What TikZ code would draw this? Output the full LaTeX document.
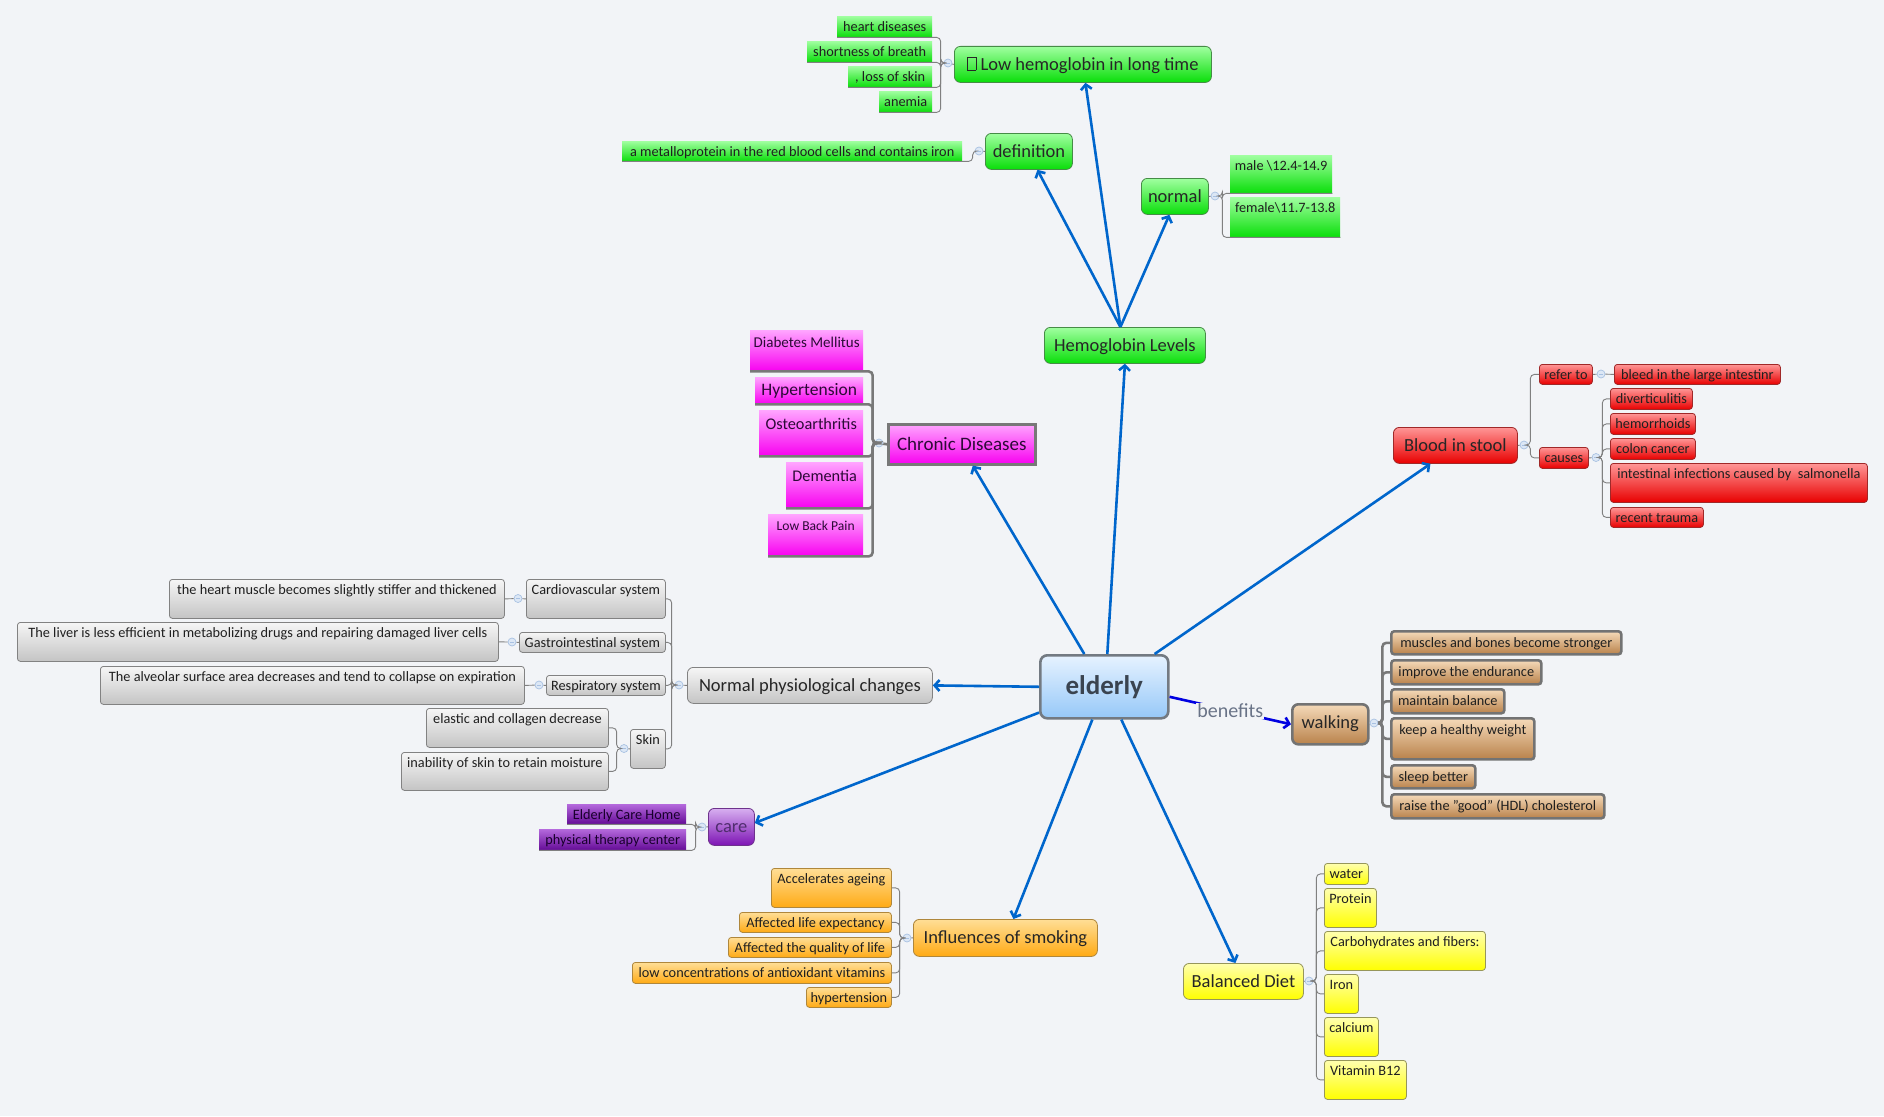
\documentclass[tikz,border=0pt]{standalone}
\usepackage{fontspec}
\setmainfont{Carlito}
\usetikzlibrary{arrows.meta}
\definecolor{bgc}{RGB}{242,244,247}
\definecolor{gA}{RGB}{160,255,160}\definecolor{gB}{RGB}{10,222,10}\definecolor{gD}{RGB}{70,140,70}
\definecolor{rA}{RGB}{255,150,150}\definecolor{rB}{RGB}{232,0,0}\definecolor{rD}{RGB}{160,40,40}
\definecolor{mA}{RGB}{255,165,255}\definecolor{mB}{RGB}{248,0,240}
\definecolor{yA}{RGB}{255,255,175}\definecolor{yB}{RGB}{255,255,0}\definecolor{yD}{RGB}{150,150,90}
\definecolor{oA}{RGB}{255,222,150}\definecolor{oB}{RGB}{255,170,20}\definecolor{oD}{RGB}{175,135,60}
\definecolor{bA}{RGB}{245,218,185}\definecolor{bB}{RGB}{185,130,75}\definecolor{bD}{RGB}{115,115,115}
\definecolor{grA}{RGB}{246,246,246}\definecolor{grB}{RGB}{196,196,196}\definecolor{grD}{RGB}{130,130,130}
\definecolor{pA}{RGB}{215,175,240}\definecolor{pB}{RGB}{125,20,180}\definecolor{pD}{RGB}{110,50,140}
\definecolor{plA}{RGB}{180,105,220}\definecolor{plB}{RGB}{100,10,150}
\definecolor{blA}{RGB}{230,242,255}\definecolor{blB}{RGB}{150,200,248}\definecolor{blD}{RGB}{115,122,130}
\definecolor{arrc}{RGB}{0,102,204}
\definecolor{benc}{RGB}{0,0,225}
\definecolor{brc}{RGB}{128,128,128}
\definecolor{cirF}{RGB}{220,231,245}\definecolor{cirD}{RGB}{168,193,226}
\newcommand\tofubox{\raisebox{0.02em}{\setlength\fboxsep{0pt}\setlength\fboxrule{0.7pt}\fbox{\rule{0pt}{0.66em}\hspace{0.42em}}}}
\tikzset{
  box/.style={anchor=north west, inner xsep=2pt, inner ysep=0pt},
  sz/.style 2 args={minimum width=#1pt, text depth=#2pt},
  lf/.style={box, font=\fontsize{14.3}{16}\selectfont, text height=15pt, text=black!88},
  tp/.style={box, font=\fontsize{18.5}{21}\selectfont, text height=24pt, rounded corners=6pt, text=black!85},
  grn/.style={top color=gA, bottom color=gB},
  grnb/.style={grn, draw=gD, line width=0.8pt},
  red/.style={top color=rA, bottom color=rB, draw=rD, line width=0.8pt},
  mag/.style={top color=mA, bottom color=mB, text={rgb,255:red,45;green,10;blue,55}},
  yel/.style={top color=yA, bottom color=yB, draw=yD, line width=0.8pt},
  org/.style={top color=oA, bottom color=oB, draw=oD, line width=0.8pt},
  brn/.style={top color=bA, bottom color=bB, draw=bD, line width=2.6pt},
  gry/.style={top color=grA, bottom color=grB, draw=grD, line width=0.8pt},
  prp/.style={top color=plA, bottom color=plB, text={rgb,255:red,25;green,0;blue,45}},
  rl/.style={rounded corners=3pt},
  arr/.style={draw=arrc, line width=2.6pt, -{Straight Barb[length=5pt,width=11pt]}},
  br/.style={draw=brc, line width=0.9pt, rounded corners=4pt},
  brt/.style={draw={rgb,255:red,120;green,120;blue,120}, line width=2.6pt, rounded corners=4pt},
  cir/.style={circle, minimum size=8pt, inner sep=0pt, fill=cirF, draw=cirD, line width=0.7pt,
     path picture={\draw[cirD, line width=0.7pt] ([xshift=-2pt]path picture bounding box.center) -- ([xshift=2pt]path picture bounding box.center);}},
}
\begin{document}
\begin{tikzpicture}[x=1pt,y=-1pt]
\fill[bgc] (0,0) rectangle (1884,1116);
\useasboundingbox (0,0) rectangle (1884,1116);

% ---------- root ----------
\node[box, sz={128}{23.5}, font=\fontsize{27}{30}\selectfont\bfseries, text height=39.5pt,
  top color=blA, bottom color=blB, draw=blD, line width=2.6pt, rounded corners=7pt,
  text={rgb,255:red,58;green,68;blue,80}] (elderly) at (1039,654) {elderly};

% ---------- hemoglobin ----------
\node[tp, grnb, sz={161}{12}] (HL) at (1044,327) {Hemoglobin Levels};
\node[tp, grnb, sz={257}{12}] (lowhb) at (954,46) {\tofubox\ Low hemoglobin in long time};
\node[tp, grnb, sz={87}{12}] (defn) at (985,133) {definition};
\node[tp, grnb, sz={67}{12}] (normal) at (1141,178) {normal};
\node[lf, grn, sz={95}{6}] (hd) at (837,16) {heart diseases};
\node[lf, grn, sz={125}{6}] (sob) at (807,41) {shortness of breath};
\node[lf, grn, sz={84}{6}] (los) at (848,66) {, loss of skin};
\node[lf, grn, sz={53}{6}] (anemia) at (879,91) {anemia};
\node[lf, grn, sz={340}{5}] (metal) at (622,141) {a metalloprotein in the red blood cells and contains iron};
\node[lf, grn, sz={102}{23}] (male) at (1230,155) {male \textbackslash12.4-14.9};
\node[lf, grn, sz={110}{25}] (female) at (1230,197) {female\textbackslash11.7-13.8};
\node[cir] (cL) at (948,63) {};
\node[cir] (cD) at (979,151) {};
\node[cir] (cN) at (1215,196) {};
\draw[br] (lowhb.west) -- (cL);
\foreach \n in {hd,sob,los,anemia}{\draw[br] (cL.west) -- ++(-3,0) |- (\n.south east) -- (\n.south west);}
\draw[br] (defn.west) -- (cD);
\draw[br] (cD.west) -- ++(-2,0) |- (metal.south east) -- (metal.south west);
\draw[br] (normal.east) -- (cN);
\draw[br] (cN.east) -- ++(3,0) |- (male.south west) -- (male.south east);
\draw[br] (cN.east) -- ++(3,0) |- (female.south west) -- (female.south east);

% ---------- chronic ----------
\node[box, font=\fontsize{19}{22}\selectfont, text height=26pt, sz={147}{14}, mag, draw={rgb,255:red,120;green,120;blue,120}, line width=2.6pt] (chronic) at (887,423) {Chronic Diseases};
\node[box, mag, font=\fontsize{15}{17}\selectfont, text height=17pt, sz={113}{24}] (dm) at (750,330) {Diabetes Mellitus};
\node[box, mag, font=\fontsize{17.5}{20}\selectfont, text height=18.5pt, sz={108}{8.5}] (hyp) at (755,377) {Hypertension};
\node[box, mag, font=\fontsize{16.3}{19}\selectfont, text height=19pt, sz={104}{27}] (osteo) at (759,410) {Osteoarthritis};
\node[box, mag, font=\fontsize{16.3}{19}\selectfont, text height=19pt, sz={77}{27}] (dem) at (786,462) {Dementia};
\node[box, mag, font=\fontsize{13.6}{16}\selectfont, text height=16.5pt, sz={95}{25.5}] (lbp) at (768,514) {Low Back Pain};
\node[cir] (cCh) at (879,443) {};
\draw[brt] (chronic.west) -- (cCh);
\foreach \n in {dm,hyp,osteo,dem,lbp}{\draw[brt] (cCh.west) -- ++(-2,0) |- (\n.south east) -- (\n.south west);}

% ---------- blood in stool ----------
\node[tp, red, sz={124}{12}] (blood) at (1393,427) {Blood in stool};
\node[lf, red, rl, sz={53}{5}] (refer) at (1539,364) {refer to};
\node[lf, red, rl, sz={49}{6}] (causes) at (1539,447) {causes};
\node[lf, red, rl, sz={166}{5}] (bleed) at (1614,364) {bleed in the large intestinr};
\node[lf, red, rl, sz={82}{6}] (divert) at (1610,388) {diverticulitis};
\node[lf, red, rl, sz={85}{6}] (hemor) at (1610,413) {hemorrhoids};
\node[lf, red, rl, sz={85}{6}] (colon) at (1610,438) {colon cancer};
\node[lf, red, rl, sz={257}{24}] (infect) at (1610,463) {intestinal infections caused by~ salmonella};
\node[lf, red, rl, sz={93}{5}] (trauma) at (1610,507) {recent trauma};
\node[cir] (cB) at (1524,445) {};
\node[cir] (cR) at (1601,374) {};
\node[cir] (cC) at (1596,457.5) {};
\draw[br] (blood.east) -- (cB);
\draw[br] (cB.east) -- ++(2,0) |- (refer.west);
\draw[br] (cB.east) -- ++(2,0) |- (causes.west);
\draw[br] (refer.east) -- (cR) -- (bleed.west);
\draw[br] (causes.east) -- (cC);
\foreach \n in {divert,hemor,colon,infect,trauma}{\draw[br] (cC.east) -- ++(2,0) |- (\n.west);}

% ---------- walking ----------
\node[tp, brn, text height=24pt, sz={76}{16}] (walking) at (1291,703) {walking};
\node[lf, brn, rl, text height=16pt, sz={230}{7}] (w1) at (1390,630) {muscles and bones become stronger};
\node[lf, brn, rl, text height=16pt, sz={150}{8}] (w2) at (1390,659) {improve the endurance};
\node[lf, brn, rl, text height=16pt, sz={113}{8}] (w3) at (1390,688) {maintain balance};
\node[lf, brn, rl, text height=16pt, sz={143}{25}] (w4) at (1390,717) {keep a healthy weight};
\node[lf, brn, rl, text height=16pt, sz={84}{7}] (w5) at (1390,764) {sleep better};
\node[lf, brn, rl, text height=16pt, sz={213}{8}] (w6) at (1390,793) {raise the "good" (HDL) cholesterol};
\node[cir] (cW) at (1374,723) {};
\draw[br] (walking.east) -- (cW);
\foreach \n in {w1,w2,w3,w4,w5,w6}{\draw[brt] (cW.east) -- ++(4,0) |- (\n.west);}

% ---------- balanced diet ----------
\node[tp, yel, sz={120}{12}] (diet) at (1183,963) {Balanced Diet};
\node[lf, yel, rl, sz={44}{6}] (water) at (1324,863) {water};
\node[lf, yel, rl, sz={52}{24}] (protein) at (1324,888) {Protein};
\node[lf, yel, rl, sz={161}{24}] (carb) at (1324,931) {Carbohydrates and fibers:};
\node[lf, yel, rl, sz={34}{24}] (iron) at (1324,974) {Iron};
\node[lf, yel, rl, sz={54}{24}] (calcium) at (1324,1017) {calcium};
\node[lf, yel, rl, sz={82}{24}] (b12) at (1324,1060) {Vitamin B12};
\node[cir] (cDi) at (1309,981) {};
\draw[br] (diet.east) -- (cDi);
\foreach \n in {water,protein,carb,iron,calcium,b12}{\draw[br] (cDi.east) -- ++(3,0) |- (\n.west);}

% ---------- smoking ----------
\node[tp, org, sz={184}{13}] (smoking) at (913,919) {Influences of smoking};
\node[lf, org, rl, sz={120}{24}] (s1) at (771,868) {Accelerates ageing};
\node[lf, org, rl, sz={152}{5}] (s2) at (739,912) {Affected life expectancy};
\node[lf, org, rl, sz={163}{5}] (s3) at (728,937) {Affected the quality of life};
\node[lf, org, rl, sz={259}{6}] (s4) at (632,962) {low concentrations of antioxidant vitamins};
\node[lf, org, rl, sz={85}{5}] (s5) at (806,987) {hypertension};
\node[cir] (cS) at (907,938) {};
\draw[br] (smoking.west) -- (cS);
\foreach \n in {s1,s2,s3,s4,s5}{\draw[br] (cS.west) -- ++(-3,0) |- (\n.east);}

% ---------- care ----------
\node[tp, top color=pA, bottom color=pB, draw=pD, line width=0.8pt, sz={46}{13},
  text={rgb,255:red,80;green,45;blue,110}] (care) at (708,808) {care};
\node[lf, prp, sz={119}{5}] (ech) at (567,804) {Elderly Care Home};
\node[lf, prp, sz={147}{6}] (ptc) at (539,829) {physical therapy center};
\node[cir] (cCa) at (702,827) {};
\draw[br] (care.west) -- (cCa);
\draw[br] (cCa.west) -- ++(-2,0) |- (ech.south east) -- (ech.south west);
\draw[br] (cCa.west) -- ++(-2,0) |- (ptc.south east) -- (ptc.south west);

% ---------- normal physiological changes ----------
\node[tp, gry, sz={245}{12}] (npc) at (687,667) {Normal physiological changes};
\node[lf, gry, rl, sz={139}{24}] (cardio) at (526,579) {Cardiovascular system};
\node[lf, gry, rl, sz={146}{5}] (gastro) at (519,632) {Gastrointestinal system};
\node[lf, gry, rl, sz={119}{5}] (resp) at (546,675) {Respiratory system};
\node[lf, gry, rl, sz={35}{24}] (skin) at (630,729) {Skin};
\node[lf, gry, rl, sz={335}{24}] (heart) at (169,579) {the heart muscle becomes slightly stiffer and thickened};
\node[lf, gry, rl, sz={481}{24}] (liver) at (17,622) {The liver is less efficient in metabolizing drugs and repairing damaged liver cells};
\node[lf, gry, rl, sz={424}{23}] (alveolar) at (100,666) {The alveolar surface area decreases and tend to collapse on expiration};
\node[lf, gry, rl, sz={182}{24}] (elastic) at (426,708) {elastic and collagen decrease};
\node[lf, gry, rl, sz={207}{23}] (inability) at (401,752) {inability of skin to retain moisture};
\node[cir] (cP) at (679,685) {};
\node[cir] (cCv) at (518,598.5) {};
\node[cir] (cG) at (512,642) {};
\node[cir] (cRs) at (539,685) {};
\node[cir] (cSk) at (624,748.5) {};
\draw[br] (npc.west) -- (cP);
\foreach \n in {cardio,gastro,resp,skin}{\draw[br] (cP.west) -- ++(-3,0) |- (\n.east);}
\draw[br] (cardio.west) -- (cCv) -- (heart.east);
\draw[br] (gastro.west) -- (cG) -- (liver.east);
\draw[br] (resp.west) -- (cRs) -- (alveolar.east);
\draw[br] (skin.west) -- (cSk);
\draw[br] (cSk.west) -- ++(-3,0) |- (elastic.east);
\draw[br] (cSk.west) -- ++(-3,0) |- (inability.east);

% ---------- main arrows ----------
\draw[arr] ([xshift=3pt]elderly.north) -- (HL.south);
\draw[arr] ([xshift=-4.5pt]HL.north) -- ([xshift=2.5pt]lowhb.south);
\draw[arr] ([xshift=-4.5pt]HL.north) -- ([xshift=8.5pt]defn.south);
\draw[arr] ([xshift=-4.5pt]HL.north) -- ([xshift=-5.5pt]normal.south);
\draw[arr] ([xshift=-20pt]elderly.north) -- ([xshift=11pt]chronic.south);
\draw[arr] ([xshift=-15pt]elderly.north east) -- ([xshift=-25pt]blood.south);
\draw[arr] (elderly.west) -- (npc.east);
\draw[arr] ([yshift=7pt]elderly.south west) -- ([yshift=4pt]care.east);
\draw[arr] ([xshift=-12pt]elderly.south) -- ([xshift=8pt]smoking.north);
\draw[arr] ([xshift=17pt]elderly.south) -- ([xshift=-8pt]diet.north);
\draw[draw=benc, line width=2.6pt, -{Straight Barb[length=5pt,width=11pt]}]
  ([yshift=-10pt]elderly.east) -- node[fill=bgc, inner sep=1pt, font=\fontsize{20}{22}\selectfont,
  text={rgb,255:red,105;green,115;blue,135}] (benlab) {benefits} (walking.west);
\end{tikzpicture}
\end{document}
